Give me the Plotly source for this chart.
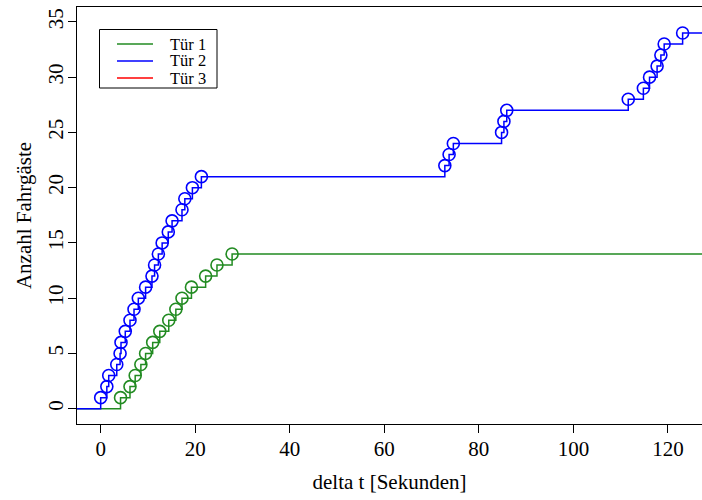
import plotly.graph_objects as go

# ---- data ----
series_names = ["Tür 1", "Tür 2", "Tür 3"]
series_colors = ["#228B22", "#0000FF", "#FF0000"]

t_tuer1 = [4.2, 6.2, 7.3, 8.5, 9.5, 11.0, 12.5, 14.4, 15.9, 17.2, 19.2, 22.2, 24.6, 27.8]
n_tuer1 = [1, 2, 3, 4, 5, 6, 7, 8, 9, 10, 11, 12, 13, 14]

t_tuer2 = [0.0, 1.3, 1.7, 3.4, 4.1, 4.3, 5.2, 6.2, 7.05, 7.96, 9.5, 10.85, 11.4, 12.2,
           13.0, 14.3, 15.1, 17.2, 17.8, 19.4, 21.3,
           72.8, 73.7, 74.6, 84.8, 85.3, 85.9,
           111.6, 114.8, 116.1, 117.7, 118.5, 119.2, 123.1]
n_tuer2 = [1, 2, 3, 4, 5, 6, 7, 8, 9, 10, 11, 12, 13, 14, 15, 16, 17, 18, 19, 20, 21,
           22, 23, 24, 25, 26, 27, 28, 29, 30, 31, 32, 33, 34]

t_tuer3 = []
n_tuer3 = []

t_start = -10.0   # step lines start before the visible range
t_end = 140.0     # and run past it

x_ticks = [0, 20, 40, 60, 80, 100, 120]
y_ticks = [0, 5, 10, 15, 20, 25, 30, 35]

FONT = "Liberation Serif"
W, H = 702, 500
ML, MR, MT, MB = 77, 0, 7, 76
PW, PH = W - ML - MR, H - MT - MB


def px_x(px):
    return (px - ML) / PW


def px_y(py):
    return (H - MB - py) / PH


fig = go.Figure()

for t, n, col in [(t_tuer1, n_tuer1, series_colors[0]), (t_tuer2, n_tuer2, series_colors[1])]:
    fig.add_trace(go.Scatter(
        x=[t_start] + t + [t_end], y=[0] + n + [n[-1]],
        mode="lines", line=dict(color=col, width=1.5, shape="hv"),
        showlegend=False, hoverinfo="skip"))
    fig.add_trace(go.Scatter(
        x=t, y=n, mode="markers",
        marker=dict(symbol="circle-open", size=12, color=col, line=dict(width=1.6, color=col)),
        showlegend=False))

if t_tuer3:
    fig.add_trace(go.Scatter(x=[t_start] + t_tuer3 + [t_end], y=[0] + n_tuer3 + [n_tuer3[-1]],
                             mode="lines+markers", line=dict(color=series_colors[2], shape="hv"),
                             showlegend=False))

# ---- manual legend (R style box) ----
shapes = []
annotations = []
lx0, lx1, ly0, ly1 = 99.5, 217, 29.5, 88
shapes.append(dict(type="rect", xref="paper", yref="paper",
                   x0=px_x(lx0), x1=px_x(lx1), y0=px_y(ly1), y1=px_y(ly0),
                   line=dict(color="black", width=1), fillcolor="white", layer="above"))
entry_y = [44.0, 61.0, 78.0]
for name, col, yy in zip(series_names, series_colors, entry_y):
    shapes.append(dict(type="line", xref="paper", yref="paper",
                       x0=px_x(117), x1=px_x(153), y0=px_y(yy), y1=px_y(yy),
                       line=dict(color=col, width=1.5), layer="above"))
    annotations.append(dict(text=name, xref="paper", yref="paper", x=px_x(168), y=px_y(yy),
                            xanchor="left", yanchor="middle", showarrow=False,
                            font=dict(family=FONT, size=16.5, color="black")))

axis_common = dict(showgrid=False, zeroline=False, showline=True, linecolor="black", linewidth=1,
                   ticks="outside", ticklen=8, tickwidth=1, tickcolor="black", automargin=False,
                   tickfont=dict(family=FONT, size=21, color="black"))

fig.update_layout(
    width=W, height=H,
    margin=dict(l=ML, r=MR, t=MT, b=MB),
    paper_bgcolor="white", plot_bgcolor="white",
    font=dict(family=FONT, size=21, color="black"),
    xaxis=dict(range=[-5.01, 127.2], tickvals=x_ticks, mirror=True, ticklabelstandoff=-2,
               title=dict(text="delta t [Sekunden]", font=dict(family=FONT, size=21), standoff=14),
               **axis_common),
    yaxis=dict(range=[-1.385, 36.35], tickvals=y_ticks, tickangle=-90, ticklabelstandoff=-3,
               title=dict(text="Anzahl Fahrgäste", font=dict(family=FONT, size=21), standoff=6),
               **axis_common),
    shapes=shapes, annotations=annotations,
    showlegend=False,
)

fig.write_html("out.html", config={"displayModeBar": False},
               post_script="document.body.style.margin='0';")
